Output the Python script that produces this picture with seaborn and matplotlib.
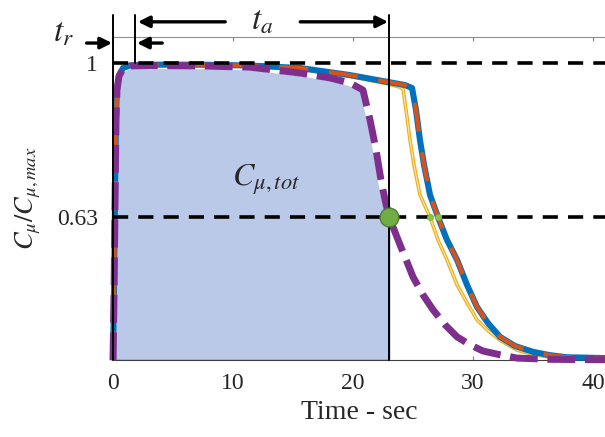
import numpy as np
import pandas as pd
import matplotlib
matplotlib.use("Agg")
import matplotlib.pyplot as plt
import seaborn as sns

# ---------------- data ----------------
time_purple = [0, 0.08, 0.17, 0.25, 0.33, 0.5, 0.83, 1.42, 3.08, 7.25, 11.4, 15.6, 18.1, 19.75,
               20.83, 21.42, 21.92, 22.33, 22.67, 23.0, 23.5, 23.92, 24.5, 25.0, 25.83, 26.67,
               27.67, 28.67, 29.75, 30.83, 32.25, 33.67, 36.4, 41]
c_purple = [0.286, 0.430, 0.671, 0.863, 0.935, 0.969, 0.986, 0.993, 0.994, 0.993, 0.990, 0.976,
            0.964, 0.952, 0.935, 0.863, 0.791, 0.719, 0.671, 0.630, 0.594, 0.563, 0.522, 0.486,
            0.443, 0.407, 0.371, 0.342, 0.323, 0.308, 0.299, 0.291, 0.288, 0.287]

time_blue = [0, 0.08, 0.17, 0.25, 0.33, 0.5, 0.83, 1.42, 3.08, 7.25, 11.4, 15.6, 19.75, 23.0,
             24.33, 24.92, 25.25, 25.58, 25.92, 26.42, 27.08, 27.83, 28.67, 29.5, 30.33, 31.25,
             32.25, 33.5, 35.0, 36.4, 37.8, 41]
c_blue = [0.286, 0.430, 0.671, 0.863, 0.935, 0.969, 0.988, 0.994, 0.996, 0.996, 0.994, 0.988,
          0.971, 0.954, 0.947, 0.940, 0.887, 0.815, 0.755, 0.683, 0.630, 0.575, 0.527, 0.467,
          0.414, 0.375, 0.342, 0.320, 0.306, 0.298, 0.293, 0.291]

time_yellow = [0, 0.08, 0.17, 0.25, 0.33, 0.5, 0.83, 1.42, 3.08, 7.25, 11.4, 15.6, 19.75, 23.0,
               23.92, 24.17, 24.42, 24.75, 25.08, 25.58, 26.42, 27.08, 27.83, 28.67, 29.5, 30.33,
               31.17, 32.25, 33.67, 35.0, 36.4, 41]
c_yellow = [0.286, 0.430, 0.671, 0.863, 0.935, 0.969, 0.987, 0.993, 0.995, 0.995, 0.992, 0.985,
            0.968, 0.949, 0.942, 0.937, 0.887, 0.815, 0.755, 0.683, 0.630, 0.575, 0.527, 0.467,
            0.424, 0.383, 0.359, 0.334, 0.310, 0.300, 0.293, 0.291]

crossing_times = [23.0, 26.42, 27.08]
crossing_level = 0.63
t_rise = 1.83
t_end = 23.0
x_ticks = [0, 10, 20, 30, 40]
y_ticks = [0.63, 1]
y_tick_labels = ["0.63", "1"]

# ---------------- style ----------------
sns.set_style("white")
plt.rcParams["font.family"] = ["Liberation Serif", "DejaVu Serif"]
plt.rcParams["mathtext.fontset"] = "stix"

fig = plt.figure(figsize=(6.05, 4.37), dpi=100)
ax = fig.add_axes([0.1868, 0.1762, 0.8132, 0.7391])
Y0, Y1 = 0.2864, 1.0625
ax.set_xlim(0, 41)
ax.set_ylim(Y0, Y1)

df_p = pd.DataFrame({"t": time_purple, "c": c_purple})
df_b = pd.DataFrame({"t": time_blue, "c": c_blue})
df_y = pd.DataFrame({"t": time_yellow, "c": c_yellow})

# filled area under the purple curve up to t_a end
fill = df_p[(df_p.t >= 0.17) & (df_p.t <= t_end)]
ax.fill_between(fill.t, fill.c, Y0, facecolor="#bac9e8", edgecolor="#2f5597", lw=1.0, zorder=1)

# white underlay for purple dashes
sns.lineplot(data=df_p, x="t", y="c", ax=ax, color="white", lw=4.6, zorder=2,
             sort=False, estimator=None)
# yellow (thin double line)
sns.lineplot(data=df_y, x="t", y="c", ax=ax, color="#edb120", lw=2.6, zorder=3,
             sort=False, estimator=None)
sns.lineplot(data=df_y, x="t", y="c", ax=ax, color="#fbe6b0", lw=0.8, zorder=3.1,
             sort=False, estimator=None)
# blue solid with orange dashes
sns.lineplot(data=df_b, x="t", y="c", ax=ax, color="#0072bd", lw=4.4, zorder=4,
             sort=False, estimator=None)
sns.lineplot(data=df_b, x="t", y="c", ax=ax, color="#d95319", lw=3.0, zorder=4.1,
             sort=False, estimator=None)
ax.lines[-1].set_dashes((7, 5))
# purple dashed
sns.lineplot(data=df_p, x="t", y="c", ax=ax, color="#7e2f8e", lw=5.0, zorder=5,
             sort=False, estimator=None)
ax.lines[-1].set_dashes((4.0, 1.4))
for ln in ax.lines:
    ln.set_clip_on(False)
    ln.set_solid_capstyle("butt")

# dashed reference lines
for lvl in y_ticks:
    ax.plot([0, 41], [lvl, lvl], color="black", lw=2.6, dashes=(4.2, 2.8), zorder=6,
            clip_on=False)

# vertical markers
top = 1.115
ax.plot([0, 0], [Y0, top], color="black", lw=1.4, zorder=7, clip_on=False)
ax.plot([t_end, t_end], [Y0, top], color="black", lw=1.4, zorder=7, clip_on=False)
ax.plot([t_rise, t_rise], [1.0, top], color="black", lw=1.4, zorder=7, clip_on=False)

# arrows
ap = dict(arrowstyle="-|>", lw=2.4, color="black", mutation_scale=17, shrinkA=0, shrinkB=0)
ax.annotate("", xy=(-0.08, 1.048), xytext=(-2.2, 1.048), arrowprops=ap, annotation_clip=False)
ax.annotate("", xy=(2.0, 1.048), xytext=(4.1, 1.048), arrowprops=ap, annotation_clip=False)
ax.annotate("", xy=(2.08, 1.099), xytext=(9.35, 1.099), arrowprops=ap, annotation_clip=False)
ax.annotate("", xy=(22.92, 1.099), xytext=(15.6, 1.099), arrowprops=ap, annotation_clip=False)

ax.text(-4.1, 1.072, r"$t_r$", fontsize=24, ha="center", va="center", clip_on=False)
ax.text(12.4, 1.101, r"$t_a$", fontsize=24, ha="center", va="center", clip_on=False)
ax.text(12.75, 0.719, r"$C_{\mu,tot}$", fontsize=23, ha="center", va="center", zorder=8)

# green crossing markers
ax.plot([crossing_times[0]], [crossing_level], "o", ms=13.5, color="#70ad47",
        mec="#507e32", mew=1.0, zorder=10, clip_on=False)
ax.plot(crossing_times[1:], [crossing_level] * 2, "o", ms=4.5, color="#8cc63f",
        mec="#70ad47", mew=0.5, zorder=10, clip_on=False)

# axes cosmetics
ax.set_xticks(x_ticks)
ax.set_yticks(y_ticks)
ax.set_yticklabels(y_tick_labels)
ax.tick_params(axis="x", direction="in", length=3, width=0.8, color="#808080",
               labelsize=17, pad=9, top=True, bottom=True)
ax.tick_params(axis="y", length=0, labelsize=17, pad=11)
for s in ["left", "right"]:
    ax.spines[s].set_visible(False)
ax.spines["top"].set_color("#909090")
ax.spines["top"].set_linewidth(0.8)
ax.spines["bottom"].set_color("#404040")
ax.spines["bottom"].set_linewidth(0.8)

ax.set_xlabel("Time - sec", fontsize=20, labelpad=5)
ax.set_ylabel(r"$C_\mu/C_{\mu,max}$", fontsize=19, labelpad=10)

fig.savefig("out.png", dpi=100)
